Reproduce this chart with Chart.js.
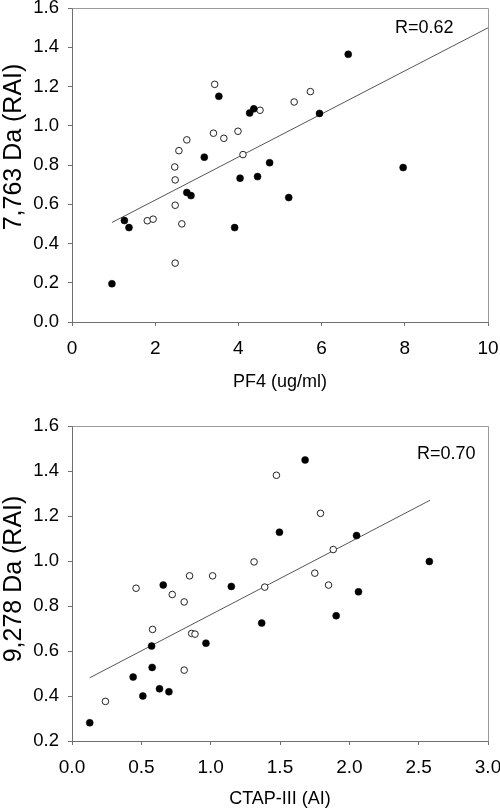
<!DOCTYPE html>
<html><head><meta charset="utf-8">
<script src="https://cdn.jsdelivr.net/npm/chart.js@4/dist/chart.umd.min.js"></script>
<style>html,body{margin:0;padding:0;background:#fff;} canvas{display:block;}</style>
</head><body>
<canvas id="c1" width="500" height="400"></canvas>
<canvas id="c2" width="500" height="411"></canvas>
<script>
// ---- Top panel: PF4 vs 7,763 Da ----
const pf4Filled   = [6.64,3.53,4.27,4.37,5.95,3.18,4.75,7.96,4.04,4.46,5.21,2.76,2.86,1.26,1.37,3.91,0.96];
const rai7763Filled = [1.364,1.150,1.065,1.086,1.063,0.840,0.812,0.787,0.733,0.741,0.634,0.660,0.644,0.517,0.481,0.481,0.195];
const pf4Open     = [3.43,5.73,5.34,4.52,3.40,3.65,3.99,2.76,2.57,4.11,2.47,2.48,2.48,1.81,1.95,2.64,2.48];
const rai7763Open = [1.211,1.174,1.121,1.079,0.962,0.936,0.972,0.928,0.873,0.853,0.790,0.724,0.595,0.516,0.524,0.500,0.300];
const pf4FitX   = [0.96, 10];
const pf4FitY   = [0.507, 1.499];
const pf4Ticks  = [0,2,4,6,8,10];
const rai7763Ticks = [0.0,0.2,0.4,0.6,0.8,1.0,1.2,1.4,1.6];

// ---- Bottom panel: CTAP-III vs 9,278 Da ----
const ctapFilled  = [1.681,1.496,2.052,2.577,0.658,1.149,2.066,1.905,1.368,0.966,0.574,0.578,0.441,0.631,0.699,0.511,0.128];
const rai9278Filled = [1.449,1.128,1.113,0.998,0.893,0.887,0.863,0.757,0.724,0.635,0.622,0.527,0.484,0.432,0.419,0.400,0.281];
const ctapOpen    = [1.474,1.792,1.884,1.313,1.751,0.848,1.014,1.850,1.390,0.462,0.723,0.809,0.581,0.863,0.887,0.809,0.241];
const rai9278Open = [1.381,1.212,1.051,0.996,0.946,0.934,0.934,0.893,0.884,0.879,0.851,0.818,0.696,0.678,0.675,0.515,0.376];
const ctapFitX  = [0.128, 2.582];
const ctapFitY  = [0.481, 1.270];
const ctapTicks = [0.0,0.5,1.0,1.5,2.0,2.5,3.0];
const rai9278Ticks = [0.2,0.4,0.6,0.8,1.0,1.2,1.4,1.6];

const FONT = "'Liberation Sans', Arial, sans-serif";
const AXIS_COLOR = '#6f6f6f';
const FRAME_COLOR = '#9a9a9a';

function pts(xs, ys){ return xs.map((x,i)=>({x:x, y:ys[i]})); }

function makeChart(canvasId, p){
  const annot = {
    id: 'annot_' + canvasId,
    afterDraw(chart){
      const ctx = chart.ctx, a = chart.chartArea;
      ctx.save();
      // frame: top and right edges
      ctx.strokeStyle = FRAME_COLOR; ctx.lineWidth = 1;
      ctx.beginPath();
      ctx.moveTo(Math.round(a.left)+0.5, Math.round(a.top)+0.5);
      ctx.lineTo(Math.round(a.right)+0.5, Math.round(a.top)+0.5);
      ctx.lineTo(Math.round(a.right)+0.5, Math.round(a.bottom)+0.5);
      ctx.stroke();
      // R label
      ctx.fillStyle = '#000';
      ctx.font = '18px ' + FONT;
      ctx.textAlign = 'left'; ctx.textBaseline = 'alphabetic';
      ctx.fillText(p.rText, p.rX, p.rY);
      // y title
      ctx.font = '25px ' + FONT;
      ctx.translate(p.yTitleX, p.yTitleY);
      ctx.rotate(-Math.PI/2);
      ctx.textAlign = 'center'; ctx.textBaseline = 'alphabetic';
      ctx.fillText(p.yTitle, 0, 0);
      ctx.restore();
    }
  };
  return new Chart(document.getElementById(canvasId), {
    type: 'scatter',
    data: {
      datasets: [
        { data: pts(p.fx, p.fy), pointStyle:'circle', pointRadius:3.5, pointBackgroundColor:'#000', pointBorderColor:'#000', pointBorderWidth:0.5, showLine:false, order:1 },
        { data: pts(p.ox, p.oy), pointStyle:'circle', pointRadius:3.3, pointBackgroundColor:'#fff', pointBorderColor:'#222', pointBorderWidth:1, showLine:false, order:2 },
        { type:'line', data: pts(p.lx, p.ly), borderColor:'#555', borderWidth:1, pointRadius:0, fill:false, tension:0, order:3 }
      ]
    },
    options: {
      responsive:false, animation:false, devicePixelRatio:1,
      layout:{ padding:{ top:p.padTop, right:12, left:0, bottom:0 } },
      plugins:{ legend:{display:false}, tooltip:{enabled:false} },
      scales:{
        x:{
          type:'linear', min:p.xTicks[0], max:p.xTicks[p.xTicks.length-1],
          afterBuildTicks(s){ s.ticks = p.xTicks.map(v=>({value:v})); },
          afterFit(s){ s.height = p.xH; s.paddingLeft = 0; s.paddingRight = 0; },
          grid:{ display:true, drawOnChartArea:false, drawTicks:true, tickLength:4, color:AXIS_COLOR, lineWidth:1 },
          border:{ display:true, color:AXIS_COLOR, width:1 },
          ticks:{ color:'#000', font:{family:FONT, size:19, lineHeight:1}, padding:13, maxRotation:0, autoSkip:false,
                  callback:(v)=>p.xFmt(v) },
          title:{ display:true, text:p.xTitle, color:'#000', font:{family:FONT, size:18, lineHeight:1}, padding:{top:0,bottom:p.xTitlePad} }
        },
        y:{
          type:'linear', min:p.yTicks[0], max:p.yTicks[p.yTicks.length-1],
          afterBuildTicks(s){ s.ticks = p.yTicks.map(v=>({value:v})); },
          afterFit(s){ s.width = 72; s.paddingTop = 0; s.paddingBottom = 0; },
          grid:{ display:true, drawOnChartArea:false, drawTicks:true, tickLength:4, color:AXIS_COLOR, lineWidth:1 },
          border:{ display:true, color:AXIS_COLOR, width:1 },
          ticks:{ color:'#000', font:{family:FONT, size:18.5, lineHeight:1}, padding:9, autoSkip:false,
                  callback:(v)=>Number(v).toFixed(1) },
          title:{ display:false }
        }
      }
    },
    plugins:[annot]
  });
}

makeChart('c1', {
  fx:pf4Filled, fy:rai7763Filled, ox:pf4Open, oy:rai7763Open, lx:pf4FitX, ly:pf4FitY,
  xTicks:pf4Ticks, yTicks:rai7763Ticks, xFmt:(v)=>String(v),
  xTitle:'PF4 (ug/ml)', xTitlePad:9, xH:78, padTop:8,
  yTitle:'7,763 Da (RAI)', yTitleX:21, yTitleY:147,
  rText:'R=0.62', rX:395, rY:33
});
makeChart('c2', {
  fx:ctapFilled, fy:rai9278Filled, ox:ctapOpen, oy:rai9278Open, lx:ctapFitX, ly:ctapFitY,
  xTicks:ctapTicks, yTicks:rai9278Ticks, xFmt:(v)=>Number(v).toFixed(1),
  xTitle:'CTAP-III (AI)', xTitlePad:3, xH:70, padTop:26,
  yTitle:'9,278 Da (RAI)', yTitleX:21, yTitleY:179,
  rText:'R=0.70', rX:417, rY:59
});
</script>
</body></html>
